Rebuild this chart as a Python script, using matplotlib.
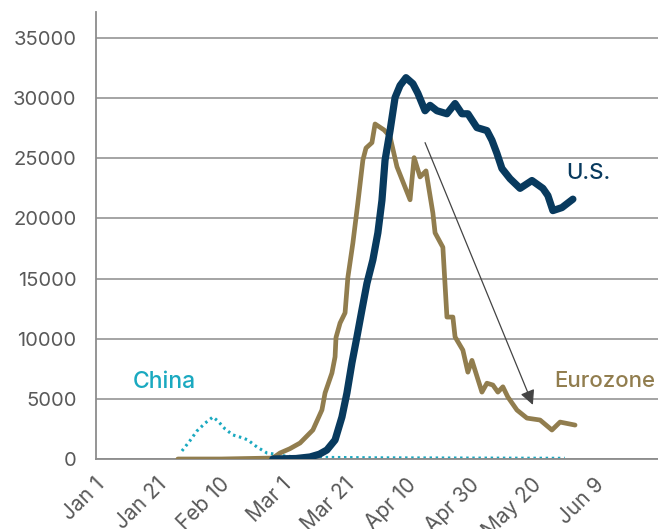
import matplotlib.pyplot as plt
import matplotlib.transforms as mtransforms

# x values are days since Jan 1, y values are new cases
tick_days = [0, 20, 40, 60, 80, 100, 120, 140, 160]
tick_labels = ["Jan 1", "Jan 21", "Feb 10", "Mar 1", "Mar 21", "Apr 10", "Apr 30", "May 20", "Jun 9"]

china_day = [27.5, 30, 32.3, 35, 37.4, 39, 41.3, 43.8, 47, 48.6, 51.5, 54.7, 57.3, 60.5, 65, 90, 120, 150]
china_val = [670, 1500, 2330, 3000, 3490, 3160, 2500, 2000, 1750, 1580, 1000, 500, 400, 250, 150, 100, 80, 60]

euro_day = [26.2, 40, 56.6, 58.9, 62, 65.3, 69.4, 72.3, 73.3, 75.5, 76.5, 76.8, 78.1, 79.7, 80.6, 82.2,
            83.8, 85.4, 86.4, 88.3, 89.3, 92.2, 94.1, 96.3, 100.5, 101.8, 103.7, 105.6, 107.8, 108.5,
            111, 112.3, 114.2, 114.9, 117.4, 119, 120.3, 123.5, 125.1, 127, 128.6, 130.2, 131.8,
            134.7, 137.9, 142.1, 145.9, 148.5, 153.3]
euro_val = [0, 0, 80, 500, 850, 1330, 2410, 4080, 5490, 7150, 8490, 10100, 11300, 12150, 15100, 17950,
            21300, 24850, 25850, 26300, 27850, 27350, 26800, 24300, 21550, 25050, 23450, 23950, 20450, 18800,
            17600, 11800, 11800, 10150, 9050, 7220, 8200, 5560, 6300, 6150, 5560, 6000, 5150,
            4070, 3400, 3240, 2410, 3070, 2820]

us_day = [56.6, 64, 68.5, 71.5, 73.9, 76.5, 78.7, 80.3, 81.9, 83.5, 85.1, 86.7, 88.6, 90.2, 91.5, 92.5, 94.1,
          95.7, 97.3, 99.2, 101.4, 103, 105.3, 106.9, 109.1, 112.3, 114.9, 117.1, 119, 121.9, 125.1,
          126.7, 128.3, 129.9, 132.5, 135.7, 139.5, 143, 144.6, 146.2, 149.1, 152.6]
us_val = [0, 40, 170, 400, 750, 1580, 3490, 5490, 7990, 10150, 12400, 14600, 16550, 18800, 21500, 24850, 27300,
          30050, 31050, 31700, 31200, 30400, 28950, 29400, 28950, 28700, 29550, 28700, 28700, 27550, 27300,
          26500, 25400, 24150, 23300, 22500, 23150, 22500, 21900, 20650, 20900, 21600]

navy = "#083a5e"
gold = "#917d4e"
teal = "#1aa9c0"
grey = "#595959"

plt.rcParams["font.family"] = ["Inter", "DejaVu Sans"]

fig = plt.figure(figsize=(6.58, 5.29), dpi=100)
ax = fig.add_axes([96 / 658, 70 / 529, 562.5 / 658, 447 / 529])

ax.plot(china_day, china_val, color=teal, lw=2.2, linestyle=(0, (0.8, 1.2)), zorder=2)
ax.plot(euro_day, euro_val, color=gold, lw=3.4, solid_capstyle="round", solid_joinstyle="round", zorder=3)
ax.plot(us_day, us_val, color=navy, lw=5.2, solid_capstyle="round", solid_joinstyle="round", zorder=4)

# trend arrow
ax.annotate("", xy=(139.8, 4500), xytext=(105.3, 26300),
            arrowprops=dict(arrowstyle="-|>", color="#444444", lw=0.9, mutation_scale=22,
                            shrinkA=0, shrinkB=0), zorder=5)

ax.text(150.5, 23800, "U.S.", color=navy, fontsize=16, fontweight="medium", va="center")
ax.text(146.5, 6500, "Eurozone", color=gold, fontsize=16, fontweight="medium", va="center")
ax.text(11.8, 6400, "China", color=teal, fontsize=16.5, fontweight="medium", va="center")

ax.set_xlim(0, 180)
ax.set_ylim(0, 37160)
ax.set_yticks(range(0, 35001, 5000))
ax.set_xticks(tick_days)
ax.set_xticklabels(tick_labels, rotation=45, ha="right", va="top", rotation_mode="anchor")
ax.tick_params(axis="both", length=0, colors=grey)
ax.tick_params(axis="x", pad=11, labelsize=15)
ax.tick_params(axis="y", pad=14, labelsize=14.5)
shift = mtransforms.ScaledTranslation(-2 / 100, 0, fig.dpi_scale_trans)
for lab in ax.get_xticklabels():
    lab.set_transform(lab.get_transform() + shift)
ax.yaxis.grid(True, color="#8c8c8c", lw=1.1)
ax.set_axisbelow(True)
for side in ["top", "right"]:
    ax.spines[side].set_visible(False)
for side in ["left", "bottom"]:
    ax.spines[side].set_color("#8c8c8c")
    ax.spines[side].set_linewidth(1.3)

fig.savefig("out.png", dpi=100)
